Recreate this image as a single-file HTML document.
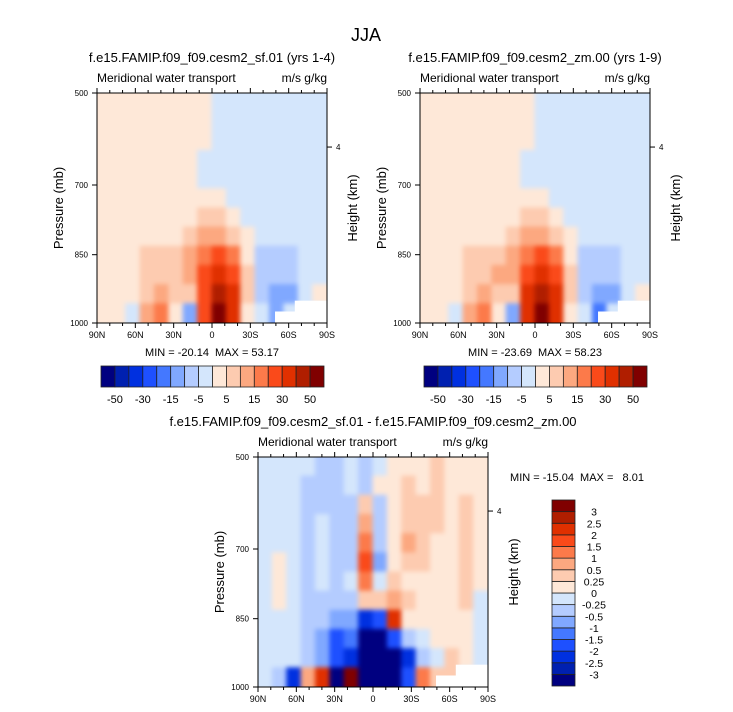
<!DOCTYPE html>
<html><head><meta charset="utf-8"><style>
html,body{margin:0;padding:0;background:#fff;}
svg{display:block;font-family:"Liberation Sans",sans-serif;}
.bl{filter:blur(2.5px);}
</style></head><body>
<svg id="chart" width="733" height="712" viewBox="0 0 733 712" xmlns="http://www.w3.org/2000/svg">
<text x="366" y="41" font-size="18" text-anchor="middle">JJA</text>
</svg>
<script>
const colors=["#000080","#0020b0","#0030e0","#1e50ff","#4478ff","#80a8ff","#b4ccff","#d4e6fc","#fee8d8","#fdcbb0","#fca880","#fc7a4a","#fa4a1a","#e03000","#b01e00","#800000"];
const topLabels=["-50","-30","-15","-5","5","15","30","50"];
const diffLabels=["3","2.5","2","1.5","1","0.5","0.25","0","-0.25","-0.5","-1","-1.5","-2","-2.5","-3"];
const xLabels=["90N","60N","30N","0","30S","60S","90S"];
const pTicks=[500,700,850,1000];
const pFrac=[0,0.4,0.703,1];
const gridA=[
[8,8,8,8,8,8,8,8,7,7,7,7,7,7,7,7],
[8,8,8,8,8,8,8,8,7,7,7,7,7,7,7,7],
[8,8,8,8,8,8,8,8,7,7,7,7,7,7,7,7],
[8,8,8,8,8,8,8,7,7,7,7,7,7,7,7,7],
[8,8,8,8,8,8,8,7,7,7,7,7,7,7,7,7],
[8,8,8,8,8,8,8,8,8,7,7,7,7,7,7,7],
[8,8,8,8,8,8,8,9,9,8,7,7,7,7,7,7],
[8,8,8,8,8,8,9,10,10,9,8,7,7,7,7,7],
[8,8,8,9,9,9,10,11,12,11,8,6,6,6,7,7],
[8,8,8,9,9,9,10,12,13,12,9,6,6,6,7,7],
[8,8,8,9,10,9,9,12,14,13,9,6,5,5,7,8],
[8,8,7,10,11,8,5,12,15,13,8,7,5,7,7,7]];
const gridB=[
[8,8,8,8,8,8,8,8,7,7,7,7,7,7,7,7],
[8,8,8,8,8,8,8,8,7,7,7,7,7,7,7,7],
[8,8,8,8,8,8,8,8,7,7,7,7,7,7,7,7],
[8,8,8,8,8,8,8,7,7,7,7,7,7,7,7,7],
[8,8,8,8,8,8,8,7,7,7,7,7,7,7,7,7],
[8,8,8,8,8,8,8,8,8,7,7,7,7,7,7,7],
[8,8,8,8,8,8,8,9,9,8,7,7,7,7,7,7],
[8,8,8,8,8,8,9,10,10,9,8,7,7,7,7,7],
[8,8,8,9,9,9,10,11,12,11,8,6,6,6,7,7],
[8,8,8,9,9,10,10,12,13,12,9,6,6,6,7,7],
[8,8,8,9,10,9,9,13,14,13,9,6,5,5,7,8],
[8,8,7,10,11,8,5,13,15,13,8,7,4,7,7,7]];
const gridD=[
[7,7,7,7,6,6,7,6,7,8,8,8,9,8,8,8],
[7,7,7,6,6,6,7,6,8,8,9,8,9,8,8,8],
[7,7,7,6,6,6,6,9,6,8,9,9,9,8,9,8],
[7,7,7,6,7,6,6,10,6,8,9,9,9,8,9,8],
[7,7,7,6,7,6,6,11,6,8,10,9,8,8,9,8],
[7,8,7,6,7,6,6,12,5,8,9,9,8,8,9,8],
[7,8,7,6,7,6,7,11,7,9,8,8,8,8,9,8],
[7,8,7,6,6,6,6,9,9,10,9,8,8,8,9,7],
[7,7,7,6,6,5,5,2,3,13,8,8,8,8,8,7],
[7,7,7,6,5,3,4,0,0,3,6,7,8,8,8,7],
[7,7,7,6,5,3,2,0,0,0,2,6,7,9,8,7],
[7,6,2,10,13,0,15,0,0,0,3,11,9,9,7,7]];
const NS="http://www.w3.org/2000/svg";
const svg=document.getElementById('chart');
function el(t,a,p){const e=document.createElementNS(NS,t);for(const k in a)e.setAttribute(k,a[k]);(p||svg).appendChild(e);return e;}
function txt(x,y,s,size,anchor,p){const e=el('text',{x:x,y:y,'font-size':size,'text-anchor':anchor||'start'},p);e.textContent=s;return e;}
let pid=0;
function panel(name,X,Y,grid,title,minmax,mmx,mmy){
  const W=230,H=230;pid++;
  const g=el('g',{});
  
  
  const cp=el('clipPath',{id:'cp'+pid},g);el('rect',{x:X,y:Y,width:W,height:H},cp);
  const cg=el('g',{'clip-path':'url(#cp'+pid+')'},g);
  const fg=el('g',{'class':'bl'},cg);
  const rows=grid.length,cols=grid[0].length;
  const cw=W/cols,ch=H/rows;
  el('rect',{x:X-20,y:Y-20,width:W+40,height:H+40,fill:colors[8]},fg);
  for(let r=0;r<rows;r++)for(let c=0;c<cols;c++){
    const v=grid[r][c];
    const ex=(c==0?-15:0),ew=(c==cols-1?15:0),ey=(r==0?-15:0),eh=(r==rows-1?15:0);
    const cell=el('rect',{x:X+c*cw-0.5+ex,y:Y+r*ch-0.5+ey,width:cw+1-ex+ew,height:ch+1-ey+eh,fill:colors[v]},fg);
    
    
  }
  el('rect',{x:X+W*0.774,y:Y+H*0.95,width:W*0.3,height:H*0.1,fill:'#fff'},cg);
  el('rect',{x:X+W*0.86,y:Y+H*0.903,width:W*0.2,height:H*0.15,fill:'#fff'},cg);
  el('rect',{x:X,y:Y,width:W,height:H,fill:'none',stroke:'#000','stroke-width':1},g);
  for(let i=0;i<=18;i++){const x=X+W*i/18;const L=i%3==0?5:3;
    el('line',{x1:x,y1:Y+H,x2:x,y2:Y+H+L,stroke:'#000'},g);el('line',{x1:x,y1:Y,x2:x,y2:Y-L,stroke:'#000'},g);}
  xLabels.forEach((s,i)=>{const t=txt(X+W*i/6,Y+H+15,s,9,'middle',g);});
  pTicks.forEach((p,i)=>{const y=Y+H*pFrac[i];el('line',{x1:X-5,y1:y,x2:X,y2:y,stroke:'#000'},g);
    const t=txt(X-9,y+3,String(p),8,'end',g);});
  el('line',{x1:X+W,y1:Y+H*0.235,x2:X+W+5,y2:Y+H*0.235,stroke:'#000'},g);
  txt(X+W+9,Y+H*0.235+3,'4',8,'start',g);
  const yt=txt(0,0,'Pressure (mb)',13,'middle',g);yt.setAttribute('transform','translate('+(X-34)+','+(Y+H/2)+') rotate(-90)');
  
  const ht=txt(0,0,'Height (km)',13,'middle',g);ht.setAttribute('transform','translate('+(X+W+30)+','+(Y+H/2)+') rotate(-90)');
  
  const tt=txt(X+W/2,Y-31,title,13,'middle',g);
  txt(X,Y-11,'Meridional water transport',12,'start',g);
  txt(X+W,Y-11,'m/s g/kg',12,'end',g);
  const mm=txt(mmx,mmy,minmax,11,'middle',g);
  mm.style.whiteSpace='pre';
}
panel('panel-sf01',97,93,gridA,'f.e15.FAMIP.f09_f09.cesm2_sf.01 (yrs 1-4)','MIN = -20.14  MAX = 53.17',212,356);
panel('panel-zm00',420,93,gridB,'f.e15.FAMIP.f09_f09.cesm2_zm.00 (yrs 1-9)','MIN = -23.69  MAX = 58.23',535,356);
panel('panel-diff',258,457,gridD,'f.e15.FAMIP.f09_f09.cesm2_sf.01 - f.e15.FAMIP.f09_f09.cesm2_zm.00','MIN = -15.04  MAX =   8.01',577,481);
function hbar(name,X){const g=el('g',{});
  const w=223/16;
  colors.forEach((c,i)=>{const b=el('rect',{x:X+i*w,y:366,width:w,height:21,fill:c,stroke:'#222','stroke-width':0.8},g);});
  topLabels.forEach((s,i)=>{txt(X+(2*i+1)*w,403,s,11,'middle',g);});}
hbar('colorbar-sf01',101);hbar('colorbar-zm00',424);
(function(){const g=el('g',{});
  const h=186/16;
  colors.forEach((c,i)=>{const b=el('rect',{x:552,y:500+(15-i)*h,width:23,height:h,fill:c,stroke:'#222','stroke-width':0.8},g);});
  diffLabels.forEach((s,i)=>{txt(594,500+(i+1)*h+4,s,10.5,'middle',g);});})();
</script>
</body></html>
